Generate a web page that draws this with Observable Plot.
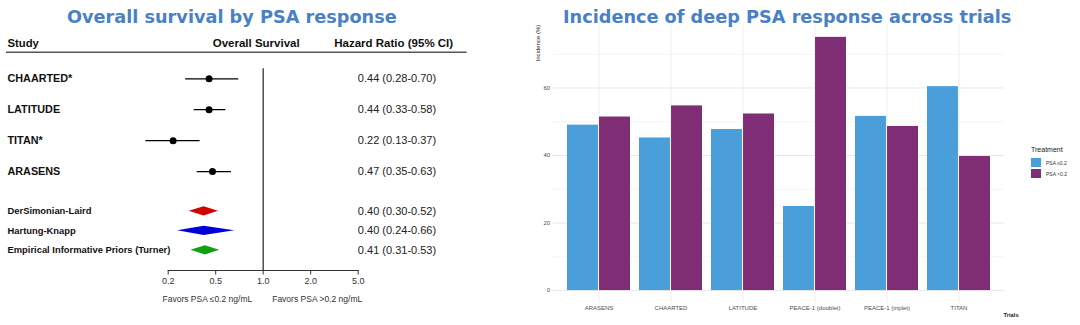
<!DOCTYPE html>
<html><head><meta charset="utf-8">
<script src="https://cdn.jsdelivr.net/npm/d3@7"></script>
<script src="https://cdn.jsdelivr.net/npm/@observablehq/plot@0.6"></script>
<style>
body{margin:0;background:#fff;width:1080px;height:325px;overflow:hidden;position:relative;font-family:"Liberation Sans",Arial,sans-serif}
.title{position:absolute;top:5px;font-family:"DejaVu Sans",sans-serif;font-weight:bold;font-size:17.7px;color:#4a80c4;white-space:nowrap;line-height:24px}
#left{position:absolute;left:0;top:0}
#right{position:absolute;left:525px;top:0}
#legend{position:absolute;left:1031px;top:145px;font-family:"Liberation Sans",Arial,sans-serif;color:#222}
#legend .lt{font-size:7px;line-height:9px;margin-bottom:3px}
#legend .row{display:flex;align-items:center;height:11px}
#legend .sw{width:10px;height:9px;margin-right:5px}
#legend .lb{font-size:5px;color:#333}
</style></head><body>
<div id="left"></div><div id="right"></div>
<div class="title" style="left:67px">Overall survival by PSA response</div>
<div class="title" style="left:563px">Incidence of deep PSA response across trials</div>
<div id="legend"></div>
<script>
// ---- Forest plot data ----
const studies = ["CHAARTED*", "LATITUDE", "TITAN*", "ARASENS"];
const studyHR = [0.44, 0.44, 0.22, 0.47];
const studyLo = [0.28, 0.33, 0.13, 0.35];
const studyHi = [0.70, 0.58, 0.37, 0.63];
const methods = ["DerSimonian-Laird", "Hartung-Knapp", "Empirical Informative Priors (Turner)"];
const methodHR = [0.40, 0.40, 0.41];
const methodLo = [0.30, 0.24, 0.31];
const methodHi = [0.52, 0.66, 0.53];
const methodColors = ["#d40000", "#0000d8", "#12a012"];
const hrTicks = [0.2, 0.5, 1.0, 2.0, 5.0];
const hrTickLabels = ["0.2", "0.5", "1.0", "2.0", "5.0"];
const headerLabels = ["Study", "Overall Survival", "Hazard Ratio (95% CI)"];
const favorLabels = ["Favors PSA \u22640.2 ng/mL", "Favors PSA >0.2 ng/mL"];

// ---- Bar chart data ----
const trials = ["ARASENS", "CHAARTED", "LATITUDE", "PEACE-1 (doublet)", "PEACE-1 (triplet)", "TITAN"];
const treatments = ["PSA \u22640.2", "PSA >0.2"];
const treatmentColors = ["#4a9fdb", "#7f2d74"];
const incidenceLow = [49.0, 45.2, 47.7, 24.9, 51.6, 60.4];
const incidenceHigh = [51.4, 54.7, 52.3, 75.0, 48.6, 39.7];
const yTicks = [0, 20, 40, 60];
const yMinorTicks = [10, 30, 50, 70];

// ---------- Left: forest plot ----------
const pos = d3.scaleLog().domain(hrTicks).range(hrTicks.map((d, i) => i));
const fmt = v => v.toFixed(2);
const rowGap = 30.9;            // px between study rows
const sumStart = 4.285, sumGap = 0.631; // summary rows, in row units
const studyRows = studies.map((s, i) => ({label: s, slot: i, hr: studyHR[i], lo: studyLo[i], hi: studyHi[i],
  text: `${fmt(studyHR[i])} (${fmt(studyLo[i])}-${fmt(studyHi[i])})`}));
const methodRows = methods.map((s, j) => ({label: s, slot: sumStart + j * sumGap, hr: methodHR[j], lo: methodLo[j], hi: methodHi[j],
  color: methodColors[j], text: `${fmt(methodHR[j])} (${fmt(methodLo[j])}-${fmt(methodHi[j])})`}));
const halfH = 4.6 / rowGap;
const diamonds = methodRows.map(r => Plot.areaY([
  {x: pos(r.lo), y1: r.slot, y2: r.slot},
  {x: pos(r.hr), y1: r.slot - halfH, y2: r.slot + halfH},
  {x: pos(r.hi), y1: r.slot, y2: r.slot}
], {x: "x", y1: "y1", y2: "y2", fill: r.color}));

const L = Plot.plot({
  width: 540, height: 325,
  marginLeft: 167.7, marginRight: 182.3, marginTop: 78.3, marginBottom: 55,
  style: {fontFamily: "Liberation Sans, Arial, sans-serif", fontSize: "9px", color: "#333", background: "white"},
  x: {type: "linear", domain: [0, hrTicks.length - 1], ticks: d3.range(hrTicks.length), tickFormat: i => hrTickLabels[i],
      tickSize: 4.5, tickPadding: 3, line: true, label: null},
  y: {domain: [0, 6.2], reverse: true, axis: null},
  marks: [
    Plot.ruleX([pos(1)], {stroke: "#333", strokeWidth: 1.3, insetTop: -10}),
    Plot.ruleY([0], {dy: -26.6, insetLeft: -161.7, insetRight: -109, stroke: "#555", strokeWidth: 1.6}),
    Plot.text([headerLabels[0]], {text: d => d, frameAnchor: "top-left", dx: -160.7, dy: -35, textAnchor: "start", lineAnchor: "middle", fontWeight: "bold", fontSize: 11.3, fill: "#111"}),
    Plot.text([headerLabels[1]], {text: d => d, x: () => pos(1), frameAnchor: "top", dx: -7, dy: -35, textAnchor: "middle", lineAnchor: "middle", fontWeight: "bold", fontSize: 11.5, fill: "#111"}),
    Plot.text([headerLabels[2]], {text: d => d, frameAnchor: "top-right", dx: 35.5, dy: -35, textAnchor: "middle", lineAnchor: "middle", fontWeight: "bold", fontSize: 11.5, fill: "#111"}),
    Plot.text(studyRows, {y: "slot", text: "label", frameAnchor: "left", dx: -160.7, textAnchor: "start", fontWeight: "bold", fontSize: 10.8, fill: "#111"}),
    Plot.text(methodRows, {y: "slot", text: "label", frameAnchor: "left", dx: -160.7, textAnchor: "start", fontWeight: "bold", fontSize: 9.4, fill: "#111"}),
    Plot.text(studyRows, {y: "slot", text: "text", frameAnchor: "right", dx: 38.8, textAnchor: "middle", fontSize: 11, fill: "#222"}),
    Plot.text(methodRows, {y: "slot", text: "text", frameAnchor: "right", dx: 38.8, textAnchor: "middle", fontSize: 11, fill: "#222"}),
    Plot.ruleY(studyRows, {y: "slot", x1: d => pos(d.lo), x2: d => pos(d.hi), stroke: "#000", strokeWidth: 1.2}),
    Plot.dot(studyRows, {x: d => pos(d.hr), y: "slot", r: 3.5, fill: "#000"}),
    ...diamonds,
    Plot.text([favorLabels[0]], {text: d => d, x: () => pos(1), frameAnchor: "bottom", dx: -11, dy: 29, textAnchor: "end", lineAnchor: "middle", fontSize: 8.5, fill: "#333"}),
    Plot.text([favorLabels[1]], {text: d => d, x: () => pos(1), frameAnchor: "bottom", dx: 9, dy: 29, textAnchor: "start", lineAnchor: "middle", fontSize: 8.5, fill: "#333"})
  ]
});
document.getElementById("left").append(L);

// ---------- Right: grouped bar chart ----------
const frameW = 555 - 27.7 - 76;
const padIn = 0.12, padOut = 0.159;
const step = frameW / (trials.length - padIn + 2 * padOut);
const halfBand = step * (1 - padIn) / 2;
const lowData = trials.map((t, i) => ({trial: t, v: incidenceLow[i]}));
const highData = trials.map((t, i) => ({trial: t, v: incidenceHigh[i]}));

const R = Plot.plot({
  width: 555, height: 325,
  marginLeft: 27.7, marginRight: 76, marginTop: 24.2, marginBottom: 22.3,
  style: {fontFamily: "Liberation Sans, Arial, sans-serif", fontSize: "6px", color: "#4d4d4d", background: "transparent"},
  x: {domain: trials, paddingInner: padIn, paddingOuter: padOut, tickSize: 0, tickPadding: 2.5, label: null, grid: true},
  y: {domain: [-3.75, 78.75], ticks: yTicks, tickSize: 0, tickPadding: 3, label: null},
  marks: [
    Plot.ruleY(yMinorTicks, {stroke: "#f1f1f1", strokeWidth: 0.8}),
    Plot.ruleY(yTicks, {stroke: "#e8e8e8", strokeWidth: 1}),
    Plot.barY(lowData, {x: "trial", y: "v", fill: treatmentColors[0], insetRight: halfBand}),
    Plot.barY(highData, {x: "trial", y: "v", fill: treatmentColors[1], insetLeft: halfBand}),
    Plot.text(["Trials"], {text: d => d, frameAnchor: "bottom-right", dx: -1, dy: 11.6, textAnchor: "start", lineAnchor: "middle", fontWeight: "bold", fontSize: 5.8, fill: "#222"}),
    Plot.text(["Incidence (%)"], {text: d => d, frameAnchor: "top-left", dx: -14.7, dy: 0, rotate: -90, textAnchor: "end", lineAnchor: "middle", fontSize: 6, fill: "#222"})
  ]
});
document.getElementById("right").append(R);

// ---------- Legend ----------
const lg = d3.select("#legend");
lg.append("div").attr("class", "lt").text("Treatment");
treatments.forEach((t, i) => {
  const row = lg.append("div").attr("class", "row");
  row.append("div").attr("class", "sw").style("background", treatmentColors[i]);
  row.append("div").attr("class", "lb").text(t);
});
</script>
</body></html>
